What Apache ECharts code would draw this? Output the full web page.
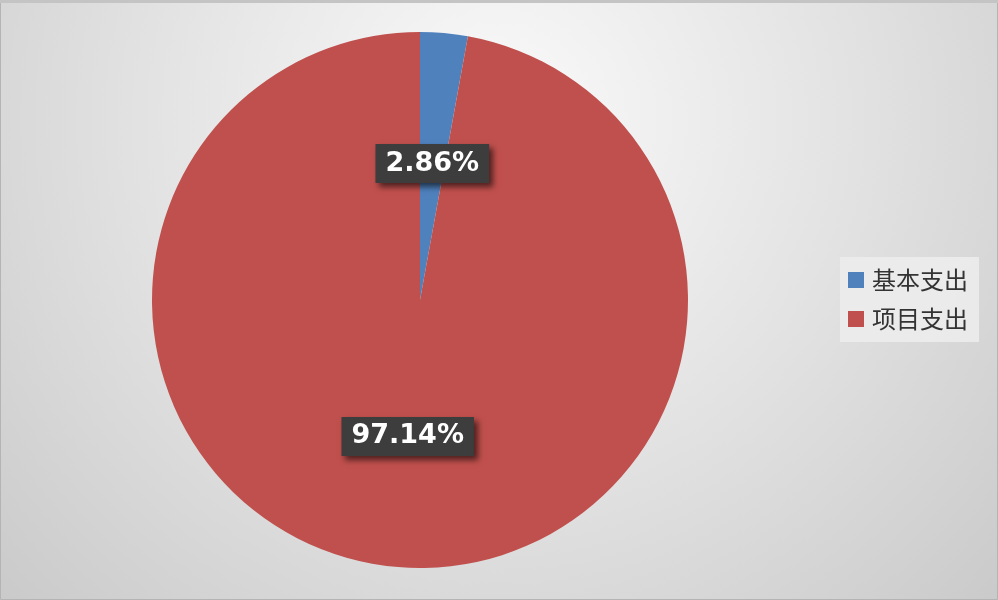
<!DOCTYPE html>
<html>
<head>
<meta charset="utf-8">
<script src="https://cdn.jsdelivr.net/npm/echarts@6/dist/echarts.min.js"></script>
<style>html,body{margin:0;padding:0;}#c{width:998px;height:600px;}</style>
</head>
<body>
<div id="c"></div>
<script>
var categories = ['基本支出', '项目支出'];
var values = [2.86, 97.14];
var colors = ['#4f81bd', '#c0504d'];

var chart = echarts.init(document.getElementById('c'), null, {renderer: 'canvas'});
chart.setOption({
  animation: false,
  backgroundColor: {
    type: 'radial', x: 0.5, y: 0.2, r: 1.2,
    colorStops: [{offset: 0, color: '#fafafa'}, {offset: 0.5, color: '#e2e2e2'}, {offset: 1, color: '#c8c8c8'}]
  },
  graphic: [{
    type: 'rect', shape: {x: 0.5, y: 0.5, width: 997, height: 599},
    style: {fill: 'none', stroke: '#b4b4b4', lineWidth: 1}, silent: true
  }, {
    type: 'rect', shape: {x: 0, y: 0, width: 998, height: 3},
    style: {fill: '#c4c4c4'}, silent: true
  }],
  legend: {
    orient: 'vertical',
    left: 840, top: 257,
    padding: [11, 11, 11, 8],
    itemWidth: 16, itemHeight: 16, itemGap: 15,
    backgroundColor: 'rgba(236,236,236,0.9)',
    icon: 'rect',
    textStyle: {fontFamily: 'Noto Sans CJK SC', fontSize: 24, color: '#333', padding: [0, 0, 0, 3]},
    data: categories
  },
  series: [{
    type: 'pie',
    center: [420, 300],
    radius: [0, 268],
    startAngle: 90,
    clockwise: true,
    itemStyle: {borderWidth: 0},
    label: {
      show: true,
      position: 'inside',
      formatter: function (p) { return values[p.dataIndex].toFixed(2) + '%'; },
      color: '#ffffff',
      fontFamily: 'DejaVu Sans',
      fontWeight: 'bold',
      fontSize: 27,
      backgroundColor: '#3d3d3d',
      padding: [7, 10, 5, 10],
      shadowColor: 'rgba(0,0,0,0.6)',
      shadowBlur: 6,
      shadowOffsetX: 4,
      shadowOffsetY: 4
    },
    labelLine: {show: false},
    data: categories.map(function (c, i) {
      return {name: c, value: values[i], itemStyle: {color: colors[i]}};
    })
  }]
});
</script>
</body>
</html>
